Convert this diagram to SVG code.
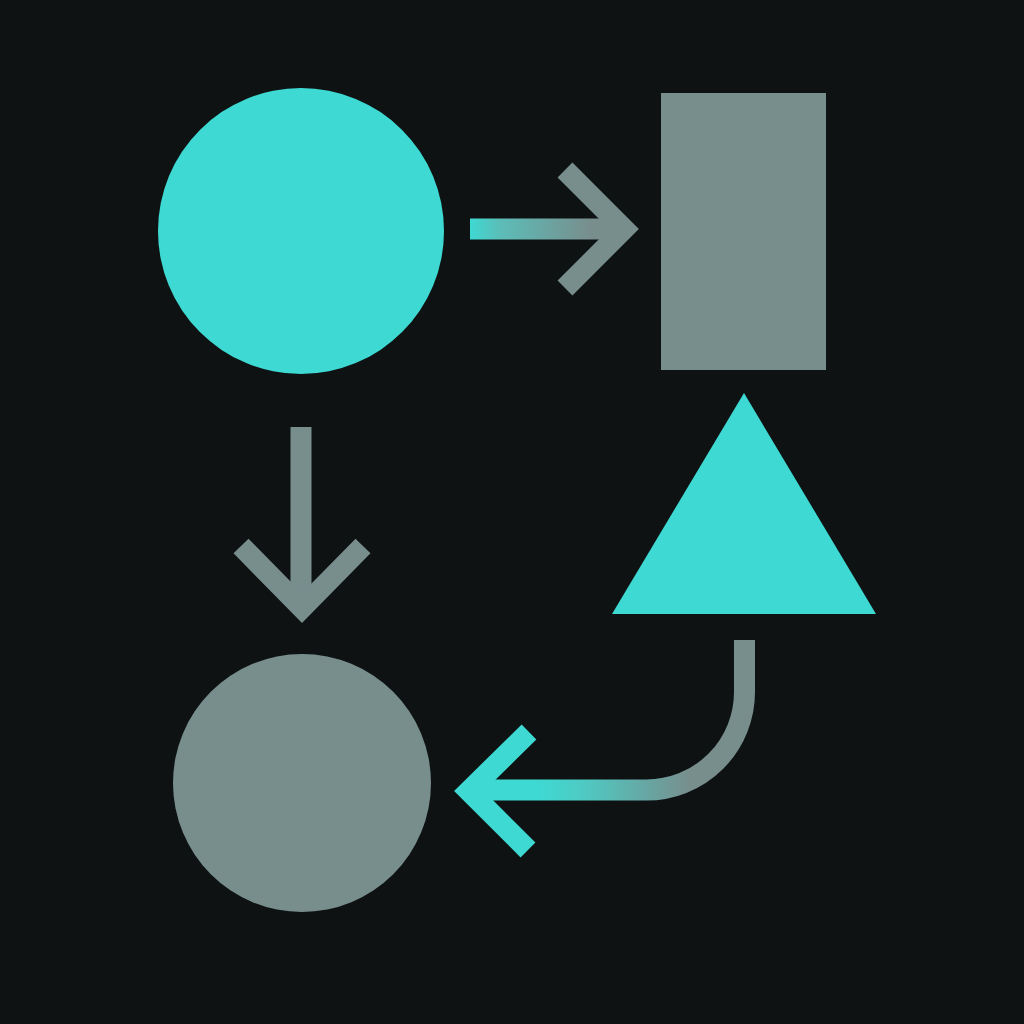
<svg xmlns="http://www.w3.org/2000/svg" width="1024" height="1024" viewBox="0 0 1024 1024">
<defs>
<style>
.teal{fill:#3ed9d2}
.gray{fill:#788e8d}
.line{fill:none;stroke-width:21;stroke-linejoin:miter;stroke-linecap:butt}
</style>
<linearGradient id="g1" gradientUnits="userSpaceOnUse" x1="470" y1="0" x2="590" y2="0">
<stop offset="0" stop-color="#3ed9d2"/><stop offset="0.25" stop-color="#5cbdb8"/><stop offset="1" stop-color="#788e8d"/>
</linearGradient>
<linearGradient id="g3" gradientUnits="userSpaceOnUse" x1="690" y1="0" x2="540" y2="0">
<stop offset="0" stop-color="#788e8d"/><stop offset="0.7" stop-color="#4fc9c2"/><stop offset="1" stop-color="#3ed9d2"/>
</linearGradient>
</defs>
<rect width="1024" height="1024" fill="#0e1213"/>
<g id="node-circle-top"><circle class="teal" cx="301" cy="231" r="143"/></g>
<g id="node-rect"><rect class="gray" x="661" y="93" width="165" height="277"/></g>
<g id="node-triangle"><polygon class="teal" points="744,393 876,614 612,614"/></g>
<g id="node-circle-bottom"><circle class="gray" cx="302" cy="783" r="129"/></g>
<g id="connectors">
<line class="line" x1="470" y1="229" x2="615" y2="229" stroke="url(#g1)"/>
<polyline class="line" points="565,170 624,229 565,288" stroke="#788e8d"/>
<line class="line" x1="301" y1="427" x2="301" y2="598" stroke="#788e8d"/>
<polyline class="line" points="241,546 302,608 363,546" stroke="#788e8d"/>
<path class="line" d="M744.5,640 V692 A98,98 0 0 1 646.5,790 H478" stroke="url(#g3)"/>
<polyline class="line" points="529,732 469,791 528,850" stroke="#3ed9d2"/>
</g>
</svg>
